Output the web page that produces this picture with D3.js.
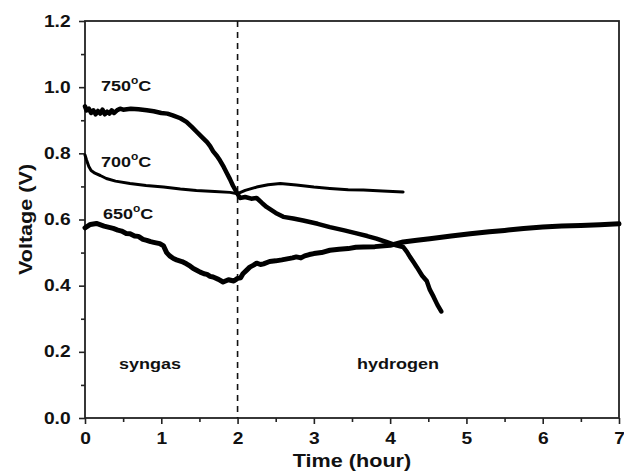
<!DOCTYPE html>
<html>
<head>
<meta charset="utf-8">
<script src="https://cdn.jsdelivr.net/npm/d3@7"></script>
<style>
  html, body { margin: 0; padding: 0; background: #fff; }
  svg { display: block; font-family: "Liberation Sans", Arial, sans-serif; }
</style>
</head>
<body>
<svg id="chart" width="624" height="472"></svg>
<script>
// Cell voltage vs. time at three operating temperatures (syngas, then hydrogen)
const t750 = [0,0.02,0.05,0.08,0.11,0.14,0.17,0.2,0.23,0.26,0.29,0.32,0.35,0.38,0.42,0.46,0.5,0.6,0.7,0.81,0.9,1.0,1.08,1.15,1.25,1.33,1.4,1.46,1.53,1.6,1.64,1.68,1.73,1.77,1.82,1.86,1.9,1.94,2.0,2.03,2.1,2.18,2.25,2.32,2.38,2.5,2.6,2.73,2.86,3.05,3.21,3.4,3.56,3.7,3.82,3.95,4.08,4.17,4.22,4.26,4.31,4.35,4.42,4.48,4.52,4.57,4.62,4.67];
const v750 = [0.942,0.93,0.935,0.922,0.93,0.918,0.928,0.92,0.932,0.918,0.926,0.92,0.93,0.922,0.93,0.935,0.932,0.935,0.933,0.93,0.927,0.922,0.92,0.915,0.906,0.895,0.88,0.866,0.85,0.834,0.822,0.806,0.792,0.778,0.758,0.74,0.722,0.702,0.677,0.665,0.668,0.663,0.665,0.65,0.638,0.62,0.608,0.603,0.597,0.587,0.577,0.567,0.558,0.55,0.542,0.532,0.522,0.517,0.502,0.487,0.47,0.456,0.43,0.414,0.388,0.366,0.342,0.322];

const t700 = [0,0.02,0.05,0.08,0.13,0.2,0.28,0.4,0.59,0.8,1.03,1.25,1.46,1.7,1.9,2.0,2.1,2.25,2.4,2.56,2.77,3.0,3.21,3.45,3.65,3.9,4.17];
const v700 = [0.795,0.78,0.76,0.748,0.74,0.733,0.724,0.716,0.709,0.703,0.698,0.692,0.688,0.685,0.682,0.678,0.688,0.698,0.705,0.709,0.704,0.698,0.694,0.69,0.689,0.686,0.683];

const t650 = [0,0.07,0.15,0.25,0.37,0.43,0.48,0.54,0.59,0.65,0.7,0.76,0.81,0.86,0.9,0.98,1.03,1.07,1.11,1.16,1.2,1.27,1.33,1.38,1.42,1.47,1.51,1.56,1.6,1.64,1.68,1.75,1.81,1.88,1.95,2.0,2.04,2.07,2.12,2.16,2.21,2.25,2.3,2.34,2.42,2.5,2.58,2.65,2.72,2.77,2.83,2.88,2.94,3.0,3.1,3.21,3.33,3.45,3.55,3.65,3.8,4.0,4.17,4.35,4.52,4.8,5.05,5.3,5.5,5.75,6.0,6.25,6.5,6.75,7.0];
const v650 = [0.575,0.585,0.588,0.58,0.573,0.568,0.565,0.558,0.557,0.55,0.549,0.54,0.537,0.533,0.531,0.527,0.52,0.5,0.49,0.482,0.478,0.473,0.466,0.459,0.452,0.446,0.441,0.436,0.434,0.428,0.426,0.419,0.411,0.418,0.414,0.422,0.424,0.436,0.447,0.456,0.462,0.468,0.464,0.466,0.473,0.475,0.478,0.481,0.484,0.487,0.484,0.49,0.494,0.497,0.5,0.507,0.51,0.512,0.516,0.517,0.518,0.522,0.532,0.537,0.542,0.55,0.557,0.563,0.567,0.573,0.577,0.58,0.582,0.584,0.587];

const xTicks = [0,1,2,3,4,5,6,7];
const yTicks = [0.0,0.2,0.4,0.6,0.8,1.0,1.2];
const switchTime = 2;

const svg = d3.select("#chart");
const margin = {left: 85, right: 5, top: 21, bottom: 54};
const W = 624, H = 472;
const STRETCH = 1.2; // glyphs are drawn slightly wide

const x = d3.scaleLinear().domain([0, 7]).range([margin.left, W - margin.right]);
const y = d3.scaleLinear().domain([0, 1.2]).range([H - margin.bottom, margin.top]);

// frame
svg.append("rect")
  .attr("x", x(0)).attr("y", y(1.2))
  .attr("width", x(7) - x(0)).attr("height", y(0) - y(1.2))
  .attr("fill", "none").attr("stroke", "#222").attr("stroke-width", 1.8);

// x axis: major and minor ticks
const xAxis = d3.axisBottom(x).tickValues(xTicks).tickFormat(d3.format("d")).tickSize(6).tickPadding(9);
svg.append("g").attr("class", "ax").attr("transform", `translate(0,${y(0)})`).call(xAxis);
const xMinor = d3.axisBottom(x).tickValues(d3.range(0.5, 7, 1)).tickFormat("").tickSize(4);
svg.append("g").attr("transform", `translate(0,${y(0)})`).call(xMinor);

// y axis: major and minor ticks
const yAxis = d3.axisLeft(y).tickValues(yTicks).tickFormat(d3.format(".1f")).tickSize(6).tickPadding(6);
svg.append("g").attr("class", "ax").attr("transform", `translate(${x(0)},0)`).call(yAxis);
const yMinor = d3.axisLeft(y).tickValues(d3.range(0.1, 1.2, 0.2)).tickFormat("").tickSize(4);
svg.append("g").attr("transform", `translate(${x(0)},0)`).call(yMinor);

svg.selectAll(".domain").remove();
svg.selectAll(".tick line").attr("stroke", "#222").attr("stroke-width", 1.6);
svg.selectAll(".ax .tick text")
  .attr("fill", "#111").attr("font-size", 16).attr("font-weight", "bold")
  .attr("font-family", "'Liberation Sans', Arial, sans-serif")
  .attr("transform", `scale(${STRETCH},1)`);

// gas switch marker
svg.append("line")
  .attr("x1", x(switchTime)).attr("x2", x(switchTime))
  .attr("y1", y(1.2)).attr("y2", y(0))
  .attr("stroke", "#111").attr("stroke-width", 1.6)
  .attr("stroke-dasharray", "6,5");

// curves
const line = d3.line().x(d => x(d[0])).y(d => y(d[1]));
const series = [
  {t: t750, v: v750, w: 4.5},
  {t: t700, v: v700, w: 3},
  {t: t650, v: v650, w: 5}
];
series.forEach(s => {
  svg.append("path")
    .datum(s.t.map((t, i) => [t, s.v[i]]))
    .attr("d", line)
    .attr("fill", "none").attr("stroke", "#000")
    .attr("stroke-width", s.w)
    .attr("stroke-linejoin", "round").attr("stroke-linecap", "round");
});

// stretched bold text helper
function label(txt, px, py, size, anchor) {
  return svg.append("text")
    .attr("transform", `translate(${px},${py}) scale(${STRETCH},1)`)
    .attr("text-anchor", anchor || "start")
    .attr("font-size", size).attr("font-weight", "bold").attr("fill", "#111")
    .text(txt);
}

// temperature labels
function tempLabel(txt, px, py) {
  const tx = label("", px, py, 15);
  tx.append("tspan").text(txt);
  tx.append("tspan").attr("font-size", 10).attr("dy", -7).text("o");
  tx.append("tspan").attr("dy", 7).text("C");
}
tempLabel("750", 101, 91);
tempLabel("700", 101, 167);
tempLabel("650", 103, 219);

// atmosphere labels
label("syngas", 150, 369, 15, "middle");
label("hydrogen", 398, 369, 15, "middle");

// axis titles
label("Time (hour)", (x(0) + x(7)) / 2, 467, 18, "middle");
svg.append("text")
  .attr("transform", `translate(32,${(y(0) + y(1.2)) / 2}) rotate(-90) scale(${STRETCH},1)`)
  .attr("text-anchor", "middle")
  .attr("font-size", 18).attr("font-weight", "bold").attr("fill", "#111").text("Voltage (V)");
</script>
</body>
</html>
